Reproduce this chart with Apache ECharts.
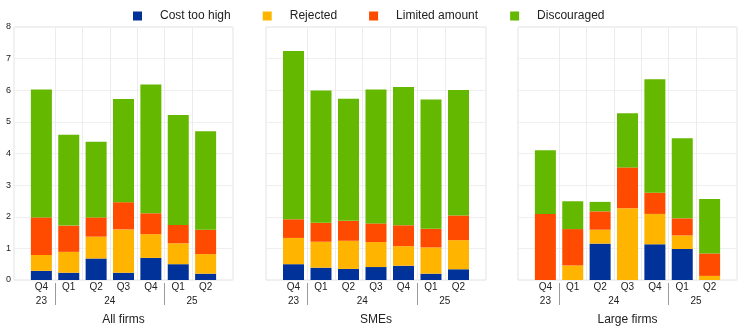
<!DOCTYPE html>
<html>
<head>
<meta charset="utf-8">
<script src="https://cdn.jsdelivr.net/npm/echarts@6/dist/echarts.min.js"></script>
<style>
html,body{margin:0;padding:0;background:#fff;}
#chart{width:744px;height:332px;}
</style>
</head>
<body>
<div id="chart"></div>
<script>
// ---- data ----
const quarterLabels = ['Q4','Q1','Q2','Q3','Q4','Q1','Q2'];
const yearLabels    = ['23','24','24','24','24','25','25'];
const panelNames    = ['All firms','SMEs','Large firms'];
const seriesNames   = ['Cost too high','Rejected','Limited amount','Discouraged'];
const yTicks        = [0,1,2,3,4,5,6,7,8];

const costTooHighAll   = [0.29,0.23,0.68,0.23,0.70,0.50,0.20];
const rejectedAll      = [0.50,0.66,0.69,1.37,0.75,0.66,0.62];
const limitedAll       = [1.19,0.83,0.61,0.86,0.66,0.58,0.77];
const discouragedAll   = [4.04,2.87,2.39,3.26,4.07,3.48,3.11];

const costTooHighSME   = [0.50,0.39,0.35,0.41,0.45,0.20,0.34];
const rejectedSME      = [0.83,0.82,0.89,0.79,0.62,0.83,0.92];
const limitedSME       = [0.59,0.60,0.63,0.59,0.66,0.59,0.78];
const discouragedSME   = [5.32,4.18,3.86,4.23,4.37,4.09,3.97];

const costTooHighLarge = [0.00,0.00,1.15,0.00,1.13,0.98,0.00];
const rejectedLarge    = [0.00,0.46,0.44,2.27,0.96,0.43,0.13];
const limitedLarge     = [2.09,1.15,0.58,1.29,0.67,0.54,0.71];
const discouragedLarge = [2.01,0.88,0.30,1.71,3.59,2.53,1.72];

const panelData = [
  [costTooHighAll, rejectedAll, limitedAll, discouragedAll],
  [costTooHighSME, rejectedSME, limitedSME, discouragedSME],
  [costTooHighLarge, rejectedLarge, limitedLarge, discouragedLarge]
];
const colors = ['#003299','#FFB400','#FF4B00','#65B800'];

// year groups derived from the year labels
const groups = [];
yearLabels.forEach((y, i) => {
  const g = groups[groups.length - 1];
  if (g && g.label === y) g.end = i; else groups.push({label: y, start: i, end: i});
});
const groupCenters = groups.map(g => (g.start + g.end) / 2);
const groupBounds = groups.slice(1).map(g => g.start - 0.5);
const n = quarterLabels.length;
// hidden half-step band axis: slot 2*(i+1) holds quarter i, odd slots are the gaps between quarters
const slots = Array.from({length: 2 * n + 3}, (_, i) => String(i));

const FONT = 'Arial, "Liberation Sans", sans-serif';
const TXT = '#222';
const gridLefts = [14, 266, 518];
const gridWidths = [219, 220, 219];

const grids = [], xAxes = [], yAxes = [], series = [];
panelNames.forEach((pname, p) => {
  grids.push({left: gridLefts[p], width: gridWidths[p], top: 27, height: 253,
    show: true, borderColor: '#e3e3e3', borderWidth: 1, backgroundColor: 'transparent'});
  // axis 3p: hidden category axis carrying the bars + vertical grid lines
  xAxes.push({
    gridIndex: p, type: 'category', data: slots, boundaryGap: false, position: 'bottom',
    axisLine: {show: false}, axisTick: {show: false}, axisLabel: {show: false},
    splitLine: {show: true, interval: (idx) => idx % 2 === 1 && idx > 1 && idx < 2 * n + 1,
      lineStyle: {color: '#ececec', width: 1}}
  });
  // axis 3p+1: quarter labels
  xAxes.push({
    gridIndex: p, type: 'value', min: -1, max: n, interval: 1, position: 'bottom',
    axisLine: {show: false}, axisTick: {show: false}, splitLine: {show: false},
    axisLabel: {customValues: quarterLabels.map((q, i) => i),
      formatter: v => quarterLabels[Math.round(v)] || '',
      fontSize: 10, color: TXT, fontFamily: FONT, margin: 2}
  });
  // axis 3p+2: year labels, separators, panel name
  xAxes.push({
    gridIndex: p, type: 'value', min: -1, max: n, interval: 1, position: 'bottom', offset: 3,
    axisLine: {show: false}, splitLine: {show: false},
    axisTick: {show: true, customValues: groupBounds, length: 22, lineStyle: {color: '#9a9a9a', width: 1}},
    axisLabel: {customValues: groupCenters,
      formatter: v => { const k = groupCenters.indexOf(v); return k >= 0 ? groups[k].label : ''; },
      fontSize: 10, color: TXT, fontFamily: FONT, margin: 13},
    name: pname, nameLocation: 'middle', nameGap: 31,
    nameTextStyle: {fontSize: 12, color: TXT, fontFamily: FONT}
  });
  yAxes.push({
    gridIndex: p, type: 'value', min: yTicks[0], max: yTicks[yTicks.length - 1], interval: 1,
    axisLine: {show: false}, axisTick: {show: false},
    splitLine: {show: true, lineStyle: {color: '#efefef', width: 1}},
    axisLabel: {show: p === 0, fontSize: 9, color: TXT, fontFamily: FONT, margin: 3}
  });
  seriesNames.forEach((sname, s) => {
    series.push({
      name: sname, type: 'bar', stack: 'p' + p,
      xAxisIndex: p * 3, yAxisIndex: p,
      barWidth: 21,
      itemStyle: {color: colors[s]},
      data: panelData[p][s].map((v, i) => [2 * (i + 1), v]),
      animation: false
    });
  });
});

const chart = echarts.init(document.getElementById('chart'), null, {renderer: 'canvas'});
chart.setOption({
  animation: false,
  textStyle: {fontFamily: FONT},
  color: colors,
  legend: {
    data: seriesNames, left: 128, top: 5, itemWidth: 9, itemHeight: 9, itemGap: 32,
    icon: 'rect',
    formatter: name => '{p| }' + name,
    textStyle: {fontSize: 12, color: TXT, fontFamily: FONT, rich: {p: {width: 13}}}
  },
  grid: grids,
  xAxis: xAxes,
  yAxis: yAxes,
  series: series
});
</script>
</body>
</html>
